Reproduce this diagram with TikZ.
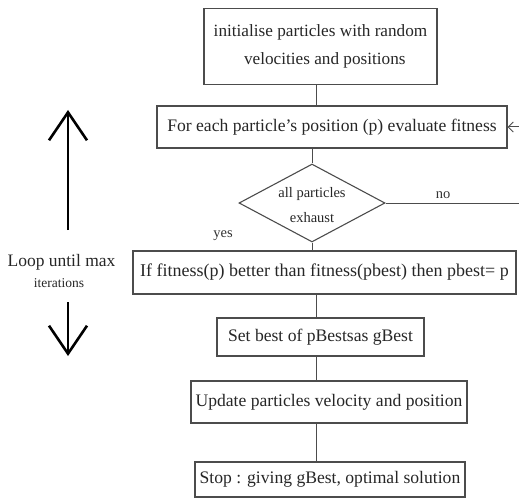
\documentclass[tikz,border=0pt]{standalone}
\usepackage{fontspec}
\setmainfont{Liberation Serif}
\usetikzlibrary{shapes.geometric,arrows.meta}
\begin{document}
\begin{tikzpicture}[x=1pt,y=-1pt,
  box/.style={draw=black!70, line width=1.1pt, rectangle, inner sep=0pt, text=black!85, font=\fontsize{17.6}{20}\selectfont},
  link/.style={draw=black!70, line width=1pt},
  lbl/.style={font=\fontsize{14.5}{16}\selectfont, text=black!80},
  bigarrow/.style={line width=2.6pt, -{Straight Barb[length=28pt,width=38pt,line width=2.6pt]}}]
\useasboundingbox (0,0) rectangle (519,500);
\node[box, minimum width=233pt, minimum height=76pt, align=center, font=\fontsize{17.2}{30}\selectfont] (init) at (320.5,46.5) {\raisebox{-3pt}{\shortstack{initialise particles with random\\[10pt] \ \ velocities and positions}}};
\node[box, minimum width=350pt, minimum height=42pt] (fit) at (332,127) {For each particle's position (p) evaluate fitness};
\node[draw=black!70, line width=1.1pt, diamond, inner sep=0pt, minimum width=146pt, minimum height=78pt] (dia) at (312,203) {};
\node[align=center, inner sep=0pt, text=black!85, font=\fontsize{14.5}{25}\selectfont] (diatext) at ([yshift=-2pt]dia.center) {all particles\\exhaust};
\node[box, minimum width=383pt, minimum height=43pt, font=\fontsize{18}{20}\selectfont] (ifb) at (324.5,272.5) {If fitness(p) better than fitness(pbest) then pbest= p};
\node[box, minimum width=207pt, minimum height=38pt] (set) at (320.5,337) {Set best of pBestsas gBest};
\node[box, minimum width=276pt, minimum height=42pt] (upd) at (329,402) {Update particles velocity and position};
\node[box, minimum width=270pt, minimum height=35pt] (stop) at (330,479.5) {Stop : giving gBest, optimal solution};
\coordinate (spine) at (316,0);
\draw[link] (init.south -| spine) -- (fit.north -| spine);
\draw[link] (fit.south -| dia.north) -- (dia.north);
\draw[link] (dia.south) -- (ifb.north -| dia.south);
\draw[link] (ifb.south -| spine) -- (set.north -| spine);
\draw[link] (set.south -| spine) -- (upd.north -| spine);
\draw[link] (upd.south -| spine) -- (stop.north -| spine);
\coordinate (noend) at (519,203);
\draw[link] (dia.east) -- (noend);
\node[lbl] (no) at (443,195) {no};
\node[lbl] (yes) at (223,236) {yes};
\coordinate (ret) at (519,127);
\draw[link, -{Straight Barb[length=5pt,width=10pt]}] (ret) -- (fit.east);
\coordinate (uptail) at (68,230);
\coordinate (uphead) at (68,110);
\coordinate (dntail) at (68,302);
\coordinate (dnhead) at (68,356);
\draw[bigarrow] (uptail) -- (uphead);
\draw[bigarrow] (dntail) -- (dnhead);
\node[anchor=east, font=\fontsize{17.5}{20}\selectfont, text=black!85] (loop) at (119,262) {Loop until max};
\node[font=\fontsize{13.5}{15}\selectfont, text=black!85] (iter) at (59,283) {iterations};
\end{tikzpicture}
\end{document}
